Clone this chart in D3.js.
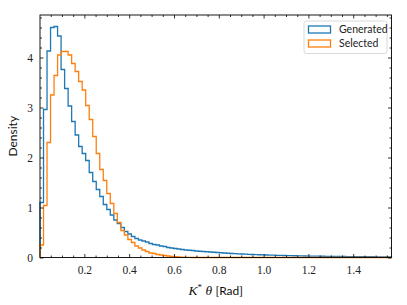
<!DOCTYPE html>
<html>
<head>
<meta charset="utf-8">
<script src="https://cdn.jsdelivr.net/npm/d3@7"></script>
<style>
  body { margin: 0; background: #fff; }
  svg { display: block; }
</style>
</head>
<body>
<div id="chart"></div>
<script>
// ── Data: histogram densities, 100 bins over [xMin, π/2] ─────────────────
const seriesNames = ["Generated", "Selected"];

const generated = [
  1.10, 2.96, 4.13, 4.60, 4.62, 4.43, 3.76, 3.38, 3.03, 2.72,
  2.45, 2.22, 2.08, 1.94, 1.70, 1.52, 1.36, 1.22, 1.06, 0.96,
  0.85, 0.75, 0.68, 0.60, 0.52, 0.47, 0.42, 0.38, 0.35, 0.33,
  0.31, 0.28, 0.26, 0.25, 0.23, 0.22, 0.20, 0.19, 0.18, 0.17,
  0.16, 0.15, 0.145, 0.14, 0.13, 0.125, 0.12, 0.115, 0.11, 0.105,
  0.10, 0.095, 0.09, 0.085, 0.08, 0.078, 0.074, 0.07, 0.067, 0.064,
  0.06, 0.058, 0.055, 0.052, 0.05, 0.048, 0.046, 0.044, 0.042, 0.04,
  0.038, 0.036, 0.035, 0.033, 0.032, 0.03, 0.029, 0.028, 0.027, 0.026,
  0.025, 0.024, 0.023, 0.022, 0.021, 0.02, 0.02, 0.019, 0.018, 0.018,
  0.017, 0.016, 0.016, 0.015, 0.015, 0.014, 0.014, 0.013, 0.013, 0.012,
];

const selected = [
  0.25, 1.04, 2.30, 3.25, 3.64, 4.05, 4.12, 4.12, 4.05, 3.88,
  3.72, 3.52, 3.35, 3.04, 2.76, 2.42, 2.08, 1.76, 1.54, 1.28,
  1.08, 0.88, 0.70, 0.54, 0.45, 0.36, 0.30, 0.23, 0.19, 0.15,
  0.12, 0.09, 0.08, 0.06, 0.05, 0.04, 0.03, 0.022, 0.016, 0.011,
  0.007, 0.004, 0.002, 0, 0, 0, 0, 0, 0, 0,
  0, 0, 0, 0, 0, 0, 0, 0, 0, 0,
  0, 0, 0, 0, 0, 0, 0, 0, 0, 0,
  0, 0, 0, 0, 0, 0, 0, 0, 0, 0,
  0, 0, 0, 0, 0, 0, 0, 0, 0, 0,
  0, 0, 0, 0, 0, 0, 0, 0, 0, 0,
];

const xTicks = [0.2, 0.4, 0.6, 0.8, 1.0, 1.2, 1.4];
const xTickLabels = ["0.2", "0.4", "0.6", "0.8", "1.0", "1.2", "1.4"];
const yTicks = [0, 1, 2, 3, 4];
const yTickLabels = ["0", "1", "2", "3", "4"];
const xMin = 0.002;
const xMax = Math.PI / 2;
const yMax = 4.85;

const colors = ["#1f77b4", "#ff7f0e"];

// ── Dimensions ────────────────────────────────────────────────────────────
const W = 407, H = 305;
const margin = { top: 15, right: 15.5, bottom: 47.5, left: 40 };
const serif = "'Liberation Serif', 'DejaVu Serif', serif";
const sans = "Lato, 'DejaVu Sans', sans-serif";

const svg = d3.select("#chart")
  .append("svg")
  .attr("width", W)
  .attr("height", H);

const x = d3.scaleLinear().domain([xMin, xMax]).range([margin.left, W - margin.right]);
const y = d3.scaleLinear().domain([0, yMax]).range([H - margin.bottom, margin.top]);

// ── Histogram outlines (step) ─────────────────────────────────────────────
const nBins = generated.length;
const edges = d3.range(nBins + 1).map((i) => xMin + (i * (xMax - xMin)) / nBins);

function stepPath(values) {
  const pts = [[x(edges[0]), y(0)]];
  values.forEach((v, i) => {
    pts.push([x(edges[i]), y(v)]);
    pts.push([x(edges[i + 1]), y(v)]);
  });
  pts.push([x(edges[nBins]), y(0)]);
  return d3.line()(pts);
}

[generated, selected].forEach((vals, k) => {
  svg.append("path")
    .attr("d", stepPath(vals))
    .attr("fill", "none")
    .attr("stroke", colors[k])
    .attr("stroke-width", 1.3)
    .attr("stroke-linejoin", "miter");
});

// ── Axes (ticks inward on all four sides) ─────────────────────────────────
const xMinor = d3.range(0.05, 1.56, 0.05).filter((t) => Math.abs(t / 0.2 - Math.round(t / 0.2)) > 1e-6);
const yMinor = d3.range(0.2, 4.85, 0.2).filter((t) => Math.abs(t - Math.round(t)) > 1e-6);

function addAxis(axisFn, scale, ticks, size, transform, labels) {
  const g = svg.append("g")
    .attr("transform", transform)
    .call(axisFn(scale).tickValues(ticks).tickSize(size).tickSizeOuter(0)
      .tickFormat(labels ? (d, i) => labels[i] : ""));
  g.select(".domain").remove();
  g.selectAll(".tick line").attr("stroke", "#000").attr("stroke-width", 0.8);
  g.selectAll(".tick text")
    .style("font-family", serif)
    .style("font-size", "11.5px")
    .attr("fill", "#222");
  return g;
}

const bottomY = H - margin.bottom;
const rightX = W - margin.right;

// bottom
const gxb = addAxis(d3.axisTop, x, xTicks, 3.5, `translate(0,${bottomY})`, xTickLabels);
gxb.selectAll(".tick text").attr("y", 8).attr("dy", "0.71em");
addAxis(d3.axisTop, x, xMinor, 2, `translate(0,${bottomY})`, null);
// top
addAxis(d3.axisBottom, x, xTicks, 3.5, `translate(0,${margin.top})`, null);
addAxis(d3.axisBottom, x, xMinor, 2, `translate(0,${margin.top})`, null);
// left
const gyl = addAxis(d3.axisRight, y, yTicks, 3.5, `translate(${margin.left},0)`, yTickLabels);
gyl.selectAll(".tick text").attr("x", -7).attr("text-anchor", "end");
addAxis(d3.axisRight, y, yMinor, 2, `translate(${margin.left},0)`, null);
// right
addAxis(d3.axisLeft, y, yTicks, 3.5, `translate(${rightX},0)`, null);
addAxis(d3.axisLeft, y, yMinor, 2, `translate(${rightX},0)`, null);

// ── Frame ─────────────────────────────────────────────────────────────────
svg.append("rect")
  .attr("x", margin.left)
  .attr("y", margin.top)
  .attr("width", rightX - margin.left)
  .attr("height", bottomY - margin.top)
  .attr("fill", "none")
  .attr("stroke", "#000")
  .attr("stroke-width", 0.9);

// ── Axis labels ───────────────────────────────────────────────────────────
svg.append("text")
  .attr("transform", `translate(17,${(margin.top + bottomY) / 2}) rotate(-90)`)
  .attr("text-anchor", "middle")
  .style("font-family", sans)
  .style("font-size", "12px")
  .attr("fill", "#111")
  .text("Density");

const xl = svg.append("text")
  .attr("x", (margin.left + rightX) / 2)
  .attr("y", 295)
  .attr("text-anchor", "middle")
  .attr("fill", "#111");
xl.append("tspan").style("font-family", serif).style("font-style", "italic").style("font-size", "13.5px").text("K");
xl.append("tspan").style("font-family", serif).style("font-size", "9px").attr("dy", -5).text("*");
xl.append("tspan").style("font-family", serif).style("font-style", "italic").style("font-size", "13.5px").attr("dy", 5).text(" θ ");
xl.append("tspan").style("font-family", sans).style("font-size", "12px").text("[Rad]");

// ── Legend ────────────────────────────────────────────────────────────────
const legend = svg.append("g").attr("transform", "translate(304,21)");
legend.append("rect")
  .attr("width", 83)
  .attr("height", 32.5)
  .attr("rx", 2.5)
  .attr("fill", "#fff")
  .attr("fill-opacity", 0.8)
  .attr("stroke", "#d0d0d0")
  .attr("stroke-width", 0.8);

seriesNames.forEach((name, i) => {
  const row = legend.append("g").attr("transform", `translate(4.5,${8.5 + i * 14})`);
  row.append("rect")
    .attr("x", 0)
    .attr("y", -3.5)
    .attr("width", 22)
    .attr("height", 7)
    .attr("fill", "none")
    .attr("stroke", colors[i])
    .attr("stroke-width", 1.3);
  row.append("text")
    .attr("x", 30.5)
    .attr("dy", "0.35em")
    .style("font-family", sans)
    .style("font-size", "10.5px")
    .attr("fill", "#222")
    .text(name);
});
</script>
</body>
</html>
